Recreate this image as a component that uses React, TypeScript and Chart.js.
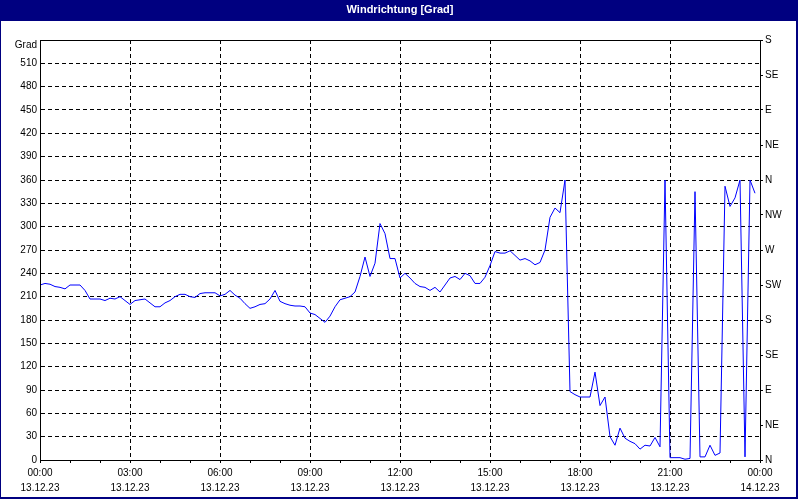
import React, { useEffect, useRef } from "react";
import { Chart, registerables } from "chart.js";

Chart.register(...registerables);

const CHART_TITLE = "Windrichtung [Grad]";
const Y_UNIT_LABEL = "Grad";
const SAMPLE_MINUTES = 10;

// wind direction in degrees, one value every 10 minutes from 13.12.23 00:00
const DIRECTION_VALUES = [
  225, 227, 226, 223, 222, 220, 225, 225, 225, 218, 207, 207,
  207, 205, 208, 207, 210, 205, 200, 205, 206, 207, 202, 197,
  197, 202, 205, 210, 213, 213, 210, 209, 214, 215, 215, 215,
  211, 213, 218, 212, 208, 201, 195, 197, 200, 201, 207, 218,
  204, 201, 199, 198, 198, 197, 189, 187, 182, 177, 185, 197,
  206, 208, 210, 216, 236, 261, 236, 253, 304, 291, 259, 259,
  234, 240, 234, 227, 223, 222, 218, 222, 216, 225, 234, 236,
  232, 240, 237, 227, 227, 235, 250, 268, 266, 266, 269, 263,
  257, 259, 256, 251, 254, 270, 312, 324, 318, 360, 88, 84,
  81, 81, 81, 113, 70, 81, 30, 19, 41, 28, 24, 21,
  14, 19, 18, 29, 17, 360, 3, 3, 3, 1, 2, 345,
  4, 4, 19, 6, 9, 352, 326, 337, 360, 4, 360, 343,
];

const HOUR_LABELS = ["00:00", "03:00", "06:00", "09:00", "12:00", "15:00", "18:00", "21:00", "00:00"];
const DATE_LABELS = ["13.12.23", "13.12.23", "13.12.23", "13.12.23", "13.12.23", "13.12.23", "13.12.23", "13.12.23", "14.12.23"];
const COMPASS_LABELS = ["N", "NE", "E", "SE", "S", "SW", "W", "NW", "N", "NE", "E", "SE", "S"];

const FONT = '"Liberation Sans", Arial, sans-serif';
const NAVY = "#000080";

export default function App() {
  const ref = useRef<HTMLCanvasElement>(null);

  useEffect(() => {
    const canvas = ref.current;
    if (!canvas) return;
    const points = DIRECTION_VALUES.map((v, i) => ({ x: i * SAMPLE_MINUTES, y: v }));

    const framePlugin = {
      id: "frame",
      beforeDraw(chart: any) {
        const { ctx, width, height } = chart;
        ctx.save();
        ctx.fillStyle = "#ffffff";
        ctx.fillRect(0, 0, width, height);
        ctx.restore();
      },
      afterDraw(chart: any) {
        const { ctx, chartArea: a } = chart;
        ctx.save();
        ctx.strokeStyle = "#000";
        ctx.lineWidth = 1;
        ctx.setLineDash([]);
        ctx.strokeRect(
          Math.round(a.left) + 0.5,
          Math.round(a.top) + 0.5,
          Math.round(a.right - a.left),
          Math.round(a.bottom - a.top)
        );
        // title bar
        ctx.fillStyle = NAVY;
        ctx.fillRect(0, 0, 798, 21);
        ctx.fillStyle = "#ffffff";
        ctx.font = `bold 11px ${FONT}`;
        ctx.textAlign = "center";
        ctx.textBaseline = "middle";
        ctx.fillText(CHART_TITLE, 400, 10);
        // outer window border
        ctx.fillStyle = NAVY;
        ctx.fillRect(0, 0, 1, 499);
        ctx.fillRect(796, 0, 2, 499);
        ctx.fillRect(0, 497, 798, 2);
        // unit label
        ctx.fillStyle = "#000";
        ctx.font = `10px ${FONT}`;
        ctx.textAlign = "right";
        ctx.textBaseline = "middle";
        ctx.fillText(Y_UNIT_LABEL, a.left - 3, a.top + 5);
        ctx.restore();
      },
    };

    const tickFont = { family: FONT, size: 10, lineHeight: "15px" };

    const chart = new Chart(canvas, {
      type: "line",
      data: {
        datasets: [
          {
            data: points,
            borderColor: "#0000ff",
            borderWidth: 1,
            pointRadius: 0,
            fill: false,
            tension: 0,
            yAxisID: "y",
            xAxisID: "x",
          },
        ],
      },
      options: {
        responsive: false,
        animation: false,
        devicePixelRatio: 1,
        events: [],
        layout: { padding: { top: 40, left: 0, right: 0, bottom: 0 } },
        plugins: {
          legend: { display: false },
          tooltip: { enabled: false },
          title: { display: false },
        },
        scales: {
          x: {
            type: "linear",
            min: 0,
            max: 1440,
            afterFit: (s: any) => {
              s.height = 40;
            },
            ticks: {
              stepSize: 60,
              autoSkip: false,
              maxRotation: 0,
              minRotation: 0,
              padding: 3,
              color: "#000",
              font: tickFont,
              callback: (v: any) => {
                const n = Number(v);
                if (n % 180 !== 0) return "";
                const i = n / 180;
                return [HOUR_LABELS[i], DATE_LABELS[i]];
              },
            },
            grid: {
              color: (c: any) => {
                const v = c.tick ? c.tick.value : -1;
                return v % 180 === 0 && v > 0 && v < 1440 ? "#000" : "rgba(0,0,0,0)";
              },
              lineWidth: 1,
              drawTicks: true,
              tickLength: 3,
              tickColor: "#000",
              tickWidth: 1,
            },
            border: { display: true, color: "#000", width: 1, dash: [4, 3] },
          },
          y: {
            position: "left",
            min: 0,
            max: 540,
            afterFit: (s: any) => {
              s.width = 40;
            },
            ticks: {
              stepSize: 30,
              padding: 3,
              color: "#000",
              font: tickFont,
              callback: (v: any) => (Number(v) >= 540 ? "" : String(v)),
            },
            grid: {
              color: (c: any) => {
                const v = c.tick ? c.tick.value : -1;
                return v > 0 && v < 540 ? "#000" : "rgba(0,0,0,0)";
              },
              lineWidth: 1,
              drawTicks: false,
            },
            border: { display: true, color: "#000", width: 1, dash: [4, 3] },
          },
          y2: {
            position: "right",
            min: 0,
            max: 540,
            afterFit: (s: any) => {
              s.width = 40;
            },
            ticks: {
              stepSize: 45,
              padding: 2,
              color: "#000",
              font: tickFont,
              callback: (v: any) => COMPASS_LABELS[Math.round(Number(v) / 45)] ?? "",
            },
            grid: {
              drawOnChartArea: false,
              drawTicks: true,
              tickLength: 3,
              tickColor: "#000",
              color: "#000",
            },
            border: { display: true, color: "#000", width: 1 },
          },
        },
      } as any,
      plugins: [framePlugin],
    });

    return () => {
      chart.destroy();
    };
  }, []);

  return (
    <div style={{ position: "absolute", left: 0, top: 0, width: 800, height: 500 }}>
      <canvas ref={ref} width={800} height={500} style={{ display: "block" }} />
    </div>
  );
}
